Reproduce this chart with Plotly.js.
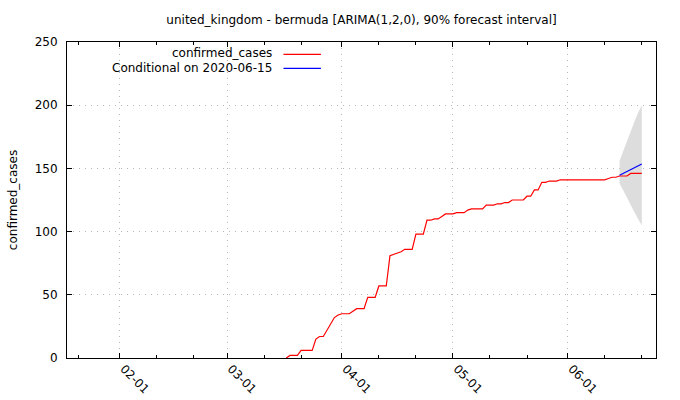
<!DOCTYPE html>
<html>
<head>
<meta charset="utf-8">
<script src="https://cdn.plot.ly/plotly-3.0.1.min.js"></script>
<style>html,body{margin:0;padding:0;background:#fff;}#chart{width:680px;height:400px;}</style>
</head>
<body>
<div id="chart"></div>
<script>
// ---- data ----
const chartTitle = 'united_kingdom - bermuda [ARIMA(1,2,0), 90% forecast interval]';
const yTitle = 'confirmed_cases';
const seriesNames = ['confirmed_cases', 'Conditional on 2020-06-15'];
const casesStart = '2020-03-17';
const cases = [
  0, 2, 2, 2, 6, 6, 6, 6, 15, 17, 17, 22, 27, 32, 34,            // Mar 17-31
  35, 35, 35, 37, 39, 39, 39, 48, 48, 48, 57, 57, 57, 81, 82,    // Apr 1-15
  83, 84, 86, 86, 86, 98, 98, 98, 109, 109, 110, 110, 112, 114, 114, // Apr 16-30
  114, 115, 115, 115, 117, 118, 118, 118, 118, 121, 121, 121, 122, 122, 123, 123, // May 1-16
  125, 125, 125, 125, 128, 128, 133, 133, 139, 139, 140, 140, 140, 141, 141,      // May 17-31
  141, 141, 141, 141, 141, 141, 141, 141, 141, 141, 141,         // Jun 1-11
  142, 143, 143, 144, 144, 144, 146, 146, 146, 146               // Jun 12-21
];
const fcDates = ['2020-06-15','2020-06-16','2020-06-17','2020-06-18','2020-06-19','2020-06-20','2020-06-21'];
const fcMean  = [144.6, 146.1, 147.5, 149.0, 150.5, 152.0, 153.5];
const fcUpper = [156, 164, 172, 180, 187, 194, 200];
const fcLower = [138, 133, 127, 121, 115, 110, 105];
const majorTickVals = ['2020-02-01','2020-03-01','2020-04-01','2020-05-01','2020-06-01'];
const majorTickText = ['02-01','03-01','04-01','05-01','06-01'];
const minorTickVals = ['2020-01-21','2020-02-11','2020-02-21','2020-03-11','2020-03-21','2020-04-11','2020-04-21','2020-05-11','2020-05-21','2020-06-11','2020-06-21'];
const yTickVals = [0, 50, 100, 150, 200, 250];

// build date axis for cases
function dayList(start, n) {
  const out = [];
  const d0 = new Date(start + 'T00:00:00Z');
  for (let i = 0; i < n; i++) {
    const d = new Date(d0.getTime() + i * 86400000);
    out.push(d.toISOString().slice(0, 10));
  }
  return out;
}
const caseDates = dayList(casesStart, cases.length);

const FONT = 'DejaVu Sans, sans-serif';
const GRID = '#b8b8b8';

const traces = [
  { x: fcDates, y: fcLower, type: 'scatter', mode: 'lines', line: {width: 0, color: '#dddddd'}, showlegend: false, hoverinfo: 'skip' },
  { x: fcDates, y: fcUpper, type: 'scatter', mode: 'lines', fill: 'tonexty', fillcolor: '#dddddd', line: {width: 0, color: '#dddddd'}, showlegend: false, hoverinfo: 'skip' },
  { x: caseDates, y: cases, type: 'scatter', mode: 'lines', name: seriesNames[0], line: {color: '#ff0000', width: 1.2}, showlegend: false },
  { x: fcDates, y: fcMean, type: 'scatter', mode: 'lines', name: seriesNames[1], line: {color: '#0000ff', width: 1.2}, showlegend: false }
];

const L = 66.5, R = 655.6, T = 42, B = 358;
const pw = R - L, ph = B - T;
const px2x = p => (p - L) / pw;
const px2y = p => (B - p) / ph;

const layout = {
  width: 680, height: 400,
  margin: {l: L, r: 680 - R, t: T, b: 400 - B, pad: 0},
  paper_bgcolor: '#ffffff', plot_bgcolor: '#ffffff',
  font: {family: FONT, size: 12, color: '#000'},
  showlegend: false,
  title: {text: chartTitle, x: 0.5, xref: 'paper', xanchor: 'center', y: 1 - 20 / 400, yref: 'container', yanchor: 'middle', font: {family: FONT, size: 12, color: '#000'}},
  xaxis: {
    type: 'date', range: ['2020-01-17 19:00', '2020-06-24 20:00'],
    tickmode: 'array', tickvals: majorTickVals, ticktext: majorTickText,
    tickangle: 45, ticks: 'inside', ticklen: 5, tickcolor: '#000', tickwidth: 1,
    ticklabelshift: 4, ticklabelstandoff: -2,
    mirror: 'allticks', showline: true, linecolor: '#000', linewidth: 1,
    showgrid: true, gridcolor: GRID, griddash: '1px,5px', gridwidth: 1, zeroline: false,
    minor: {tickmode: 'array', tickvals: minorTickVals, ticks: 'inside', ticklen: 3, tickcolor: '#000', showgrid: false},
    tickfont: {family: FONT, size: 12, color: '#000'}, automargin: false
  },
  yaxis: {
    range: [0, 250], tickmode: 'array', tickvals: yTickVals,
    ticks: 'inside', ticklen: 5, tickcolor: '#000', tickwidth: 1,
    mirror: 'allticks', showline: true, linecolor: '#000', linewidth: 1,
    showgrid: true, gridcolor: GRID, griddash: '1px,5px', gridwidth: 1, zeroline: false,
    tickfont: {family: FONT, size: 12, color: '#000'}, ticklabelstandoff: 6,
    title: {text: yTitle, font: {family: FONT, size: 12, color: '#000'}, standoff: 14}, automargin: false
  },
  annotations: [
    {xref: 'paper', yref: 'paper', x: px2x(273.5), y: px2y(53.5), xanchor: 'right', yanchor: 'middle', text: seriesNames[0], showarrow: false, font: {family: FONT, size: 12, color: '#000'}},
    {xref: 'paper', yref: 'paper', x: px2x(273.5), y: px2y(68), xanchor: 'right', yanchor: 'middle', text: seriesNames[1], showarrow: false, font: {family: FONT, size: 12, color: '#000'}}
  ],
  shapes: [
    {type: 'line', xref: 'paper', yref: 'paper', x0: px2x(283), x1: px2x(320.5), y0: px2y(54.3), y1: px2y(54.3), line: {color: '#ff0000', width: 1.2}},
    {type: 'line', xref: 'paper', yref: 'paper', x0: px2x(283), x1: px2x(320.5), y0: px2y(68.3), y1: px2y(68.3), line: {color: '#0000ff', width: 1.2}}
  ]
};

Plotly.newPlot('chart', traces, layout, {staticPlot: true, displayModeBar: false});
</script>
</body>
</html>
